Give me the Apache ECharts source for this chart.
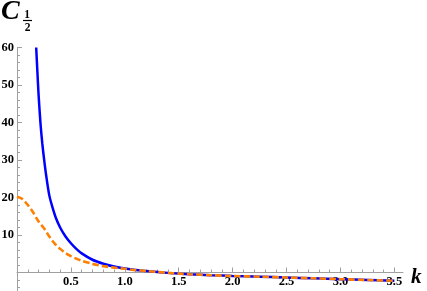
<!DOCTYPE html>
<html><head><meta charset="utf-8">
<script src="https://cdn.jsdelivr.net/npm/echarts@6/dist/echarts.min.js"></script>
<style>html,body{margin:0;padding:0;background:#fff}#c{width:427px;height:291px}</style>
</head><body><div id="c"></div>
<script>
const blueK = [0.178,0.19,0.2,0.21,0.22,0.235,0.25,0.27,0.3,0.33,0.36,0.4,0.45,0.5,0.55,0.6,0.7,0.8,0.9,1.0,1.1,1.2,1.3,1.4,1.5,1.6,1.8,2.0,2.25,2.5,2.75,3.0,3.25,3.5];
const blueC = [60,53,47.5,43,39,34.3,30.5,26,20.5,17.3,14.6,12,9.6,7.8,6.3,5.1,3.4,2.35,1.6,1.05,0.65,0.4,0.15,-0.1,-0.3,-0.47,-0.72,-0.93,-1.13,-1.33,-1.55,-1.78,-2.0,-2.2];
const orangeK = [0,0.05,0.1,0.15,0.2,0.25,0.3,0.35,0.4,0.45,0.5,0.55,0.6,0.7,0.8,0.9,1.0,1.1,1.2,1.3,1.4,1.5,1.6,1.8,2.0,2.25,2.5,2.75,3.0,3.25,3.5];
const orangeC = [20.2,19.6,18.0,16.0,13.6,11.8,9.6,7.7,6.3,5.2,4.35,3.7,3.15,2.3,1.7,1.3,0.98,0.65,0.4,0.15,-0.1,-0.3,-0.47,-0.72,-0.93,-1.13,-1.33,-1.55,-1.78,-2.0,-2.2];
const xMajor = [0.5,1.0,1.5,2.0,2.5,3.0,3.5];
const xMinor = [0.1,0.2,0.3,0.4,0.6,0.7,0.8,0.9,1.1,1.2,1.3,1.4,1.6,1.7,1.8,1.9,2.1,2.2,2.3,2.4,2.6,2.7,2.8,2.9,3.1,3.2,3.3,3.4,3.6];
const yMajor = [10,20,30,40,50,60];
const yMinor = [-4,-2,2,4,6,8,12,14,16,18,22,24,26,28,32,34,36,38,42,44,46,48,52,54,56,58];

const Y_MIN = -5, Y_MAX = 60;
const GRID_TOP = 47.5, GRID_H = 243.75;
// x axis sits at y = 0: shift it up from the grid bottom by the height of the negative range
const X_OFFSET = -GRID_H * (0 - Y_MIN) / (Y_MAX - Y_MIN);

const FONT = '"Liberation Serif", "DejaVu Serif", serif';
const AX = '#a0a0a0';
const chart = echarts.init(document.getElementById('c'), null, {renderer:'canvas'});
const xBase = {type:'value', min:0, max:3.58, position:'bottom', offset:X_OFFSET, splitLine:{show:false},
  axisLine:{onZero:false, lineStyle:{color:AX, width:1}}};
const yBase = {type:'value', min:Y_MIN, max:Y_MAX, position:'left', splitLine:{show:false},
  axisLine:{onZero:false, lineStyle:{color:AX, width:1}}};
const lbl = {fontFamily:FONT, fontWeight:'bold', fontSize:12.5, color:'#000'};
chart.setOption({
  animation:false,
  textStyle:{fontFamily:FONT},
  grid:{left:17, top:GRID_TOP, width:386, height:GRID_H, containLabel:false, outerBoundsMode:'none'},
  xAxis:[
    Object.assign({}, xBase, {
      axisTick:{show:true, inside:true, length:5, customValues:xMajor, lineStyle:{color:AX}},
      axisLabel:Object.assign({show:true, customValues:xMajor, margin:3, formatter:v=>v.toFixed(1)}, lbl)
    }),
    Object.assign({}, xBase, {
      axisLine:{show:false, onZero:false},
      axisTick:{show:true, inside:true, length:3, customValues:xMinor, lineStyle:{color:AX}},
      axisLabel:{show:false}
    })
  ],
  yAxis:[
    Object.assign({}, yBase, {
      axisTick:{show:true, inside:true, length:5, customValues:yMajor, lineStyle:{color:AX}},
      axisLabel:Object.assign({show:true, customValues:yMajor, margin:3}, lbl)
    }),
    Object.assign({}, yBase, {
      axisLine:{show:false, onZero:false},
      axisTick:{show:true, inside:true, length:3, customValues:yMinor, lineStyle:{color:AX}},
      axisLabel:{show:false}
    })
  ],
  series:[
    {type:'line', xAxisIndex:0, yAxisIndex:0, showSymbol:false, smooth:0.3, clip:true,
     data:blueK.map((k,i)=>[k,blueC[i]]),
     lineStyle:{color:'#0000ff', width:2.5}},
    {type:'line', xAxisIndex:0, yAxisIndex:0, showSymbol:false, smooth:0.3, clip:true,
     data:orangeK.map((k,i)=>[k,orangeC[i]]),
     lineStyle:{color:'#ff8000', width:2.6, type:[6.5,3]}}
  ],
  graphic:[
    {type:'text', x:1, y:12, style:{text:'C', fontFamily:FONT, fontStyle:'italic', fontWeight:'bold', fontSize:28, fill:'#000', align:'left', verticalAlign:'middle'}},
    {type:'text', x:27, y:15, style:{text:'1', fontFamily:FONT, fontWeight:'bold', fontSize:11.5, fill:'#000', align:'center', verticalAlign:'middle'}},
    {type:'line', shape:{x1:23, y1:20.5, x2:32, y2:20.5}, style:{stroke:'#000', lineWidth:1.2}},
    {type:'text', x:27.5, y:28.5, style:{text:'2', fontFamily:FONT, fontWeight:'bold', fontSize:11.5, fill:'#000', align:'center', verticalAlign:'middle'}},
    {type:'text', x:411, y:278, style:{text:'k', fontFamily:FONT, fontStyle:'italic', fontWeight:'bold', fontSize:21, fill:'#000', align:'left', verticalAlign:'middle'}}
  ]
});
</script></body></html>
